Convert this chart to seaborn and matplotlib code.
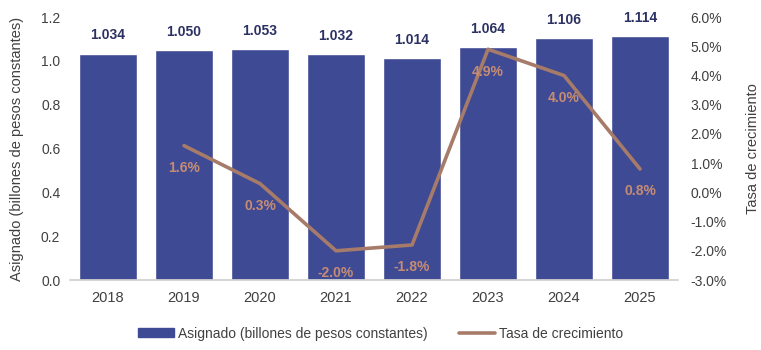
import numpy as np
import pandas as pd
import matplotlib
matplotlib.use("Agg")
import matplotlib.pyplot as plt
import seaborn as sns
from matplotlib.patches import Patch
from matplotlib.lines import Line2D

years = ["2018", "2019", "2020", "2021", "2022", "2023", "2024", "2025"]
asignado = [1.034, 1.050, 1.053, 1.032, 1.014, 1.064, 1.106, 1.114]
tasa = [np.nan, 1.6, 0.3, -2.0, -1.8, 4.9, 4.0, 0.8]
left_ticks = [0.0, 0.2, 0.4, 0.6, 0.8, 1.0, 1.2]
right_ticks = [-3, -2, -1, 0, 1, 2, 3, 4, 5, 6]

sns.set_theme(style="white")
plt.rcParams["font.family"] = ["Liberation Sans", "DejaVu Sans"]

BAR = "#3F4A94"
LINE = "#A67B69"
PCT = "#C58C73"
NAVY = "#2C3163"
GREY = "#404040"

df = pd.DataFrame({"year": years, "asignado": asignado, "tasa": tasa})
df["pos"] = np.arange(len(df))

fig = plt.figure(figsize=(7.61, 3.5), dpi=100)
ax = fig.add_axes([0.092, 0.2, 0.799, 0.751])

sns.barplot(data=df, x="year", y="asignado", color=BAR, width=0.77,
            saturation=1, ax=ax)
ax.set_ylim(0, 1.2)
ax.set_yticks(left_ticks)
ax.set_yticklabels([f"{t:.1f}" for t in left_ticks], fontsize=10, color=GREY)
ax.set_xlim(-0.5, len(years) - 0.5)
ax.tick_params(axis="x", labelsize=10.5, colors=GREY, length=0, pad=8)
ax.tick_params(axis="y", length=0, pad=7)
ax.set_xlabel("")
ax.set_ylabel("Asignado (billones de pesos constantes)", fontsize=10.5, color=GREY, labelpad=12)
for s in ["top", "right", "left"]:
    ax.spines[s].set_visible(False)
ax.spines["bottom"].set_color("#D0D0D0")

for p, v in zip(ax.patches, asignado):
    ax.annotate(f"{v:.3f}", (p.get_x() + p.get_width() / 2, p.get_height()),
                xytext=(0, 8), textcoords="offset points", ha="center", va="bottom",
                fontsize=10, fontweight="bold", color=NAVY)

ax2 = ax.twinx()
sns.lineplot(data=df, x="pos", y="tasa", color=LINE, linewidth=2.6, ax=ax2)
ax2.set_ylim(-3, 6)
ax2.set_yticks(right_ticks)
ax2.set_yticklabels([f"{t:.1f}%" for t in right_ticks], fontsize=10, color=GREY)
ax2.tick_params(axis="y", length=0, pad=9)
ax2.set_ylabel("Tasa de crecimiento", fontsize=10.5, color=GREY, labelpad=14)
ax2.set_xlabel("")
for s in ["top", "right", "left", "bottom"]:
    ax2.spines[s].set_visible(False)

for x, v in zip(df["pos"], tasa):
    if np.isnan(v):
        continue
    ax2.annotate(f"{v:.1f}%", (x, v), xytext=(0, -11), textcoords="offset points",
                 ha="center", va="top", fontsize=10, fontweight="bold", color=PCT)

handles = [Patch(facecolor=BAR, edgecolor=BAR),
           Line2D([0], [0], color=LINE, linewidth=2.6)]
labels = ["Asignado (billones de pesos constantes)", "Tasa de crecimiento"]
fig.legend(handles, labels, loc="center", bbox_to_anchor=(0.5, 0.047), ncol=2,
           frameon=False, fontsize=10, handlelength=2.6, handleheight=0.6,
           columnspacing=2.2, handletextpad=0.3, labelcolor=GREY)

fig.savefig("out.png", dpi=100)
